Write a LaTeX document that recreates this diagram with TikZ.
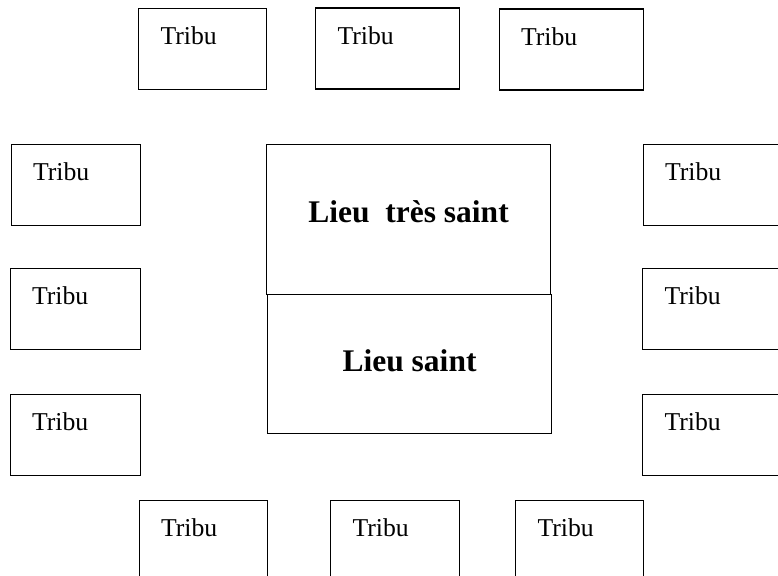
\documentclass[tikz,border=0pt]{standalone}
\usepackage{fontspec}
\setmainfont{Liberation Serif}
\usetikzlibrary{positioning}

\newcommand{\tribufont}{\fontsize{25.7}{30}\selectfont}
\newcommand{\lieufont}{\fontsize{31.5}{36}\selectfont\bfseries}

\tikzset{
  tribu/.style={draw, line width=1.1pt, anchor=north west, font=\tribufont,
    align=left, inner xsep=22pt, inner ysep=0pt, text width=#1,
    text height=36pt, text depth=45pt},
  lieu/.style={draw, line width=1.1pt, anchor=north west, font=\lieufont,
    inner sep=0pt, minimum width=284pt}
}

\begin{document}
\begin{tikzpicture}[x=1pt, y=-1pt]
        \useasboundingbox (0,0) rectangle (778,575);

        % Tabernacle
        \node[lieu, minimum height=150pt, text depth=15pt] (tressaint) at (266,144) {Lieu\ \ très saint};
        \node[lieu, minimum height=139pt, text depth=6pt] (saint) at (267,294) {Lieu saint};

        % Tribes around
        \foreach \nm/\x/\y/\w in {n1/138/8/84pt, n2/315/7.5/100pt, n3/498.5/8.5/100pt,
                                  w1/10.5/144/85pt, w2/9.5/268/86pt, w3/9.5/394/86pt,
                                  e1/642.5/144/100pt, e2/642/268/100pt, e3/642/394/100pt,
                                  s1/138.5/500/84pt, s2/330/500/85pt, s3/515/500/84pt} {
            \node[tribu=\w] (\nm) at (\x,\y) {Tribu};
        }
    \end{tikzpicture}
\end{document}
